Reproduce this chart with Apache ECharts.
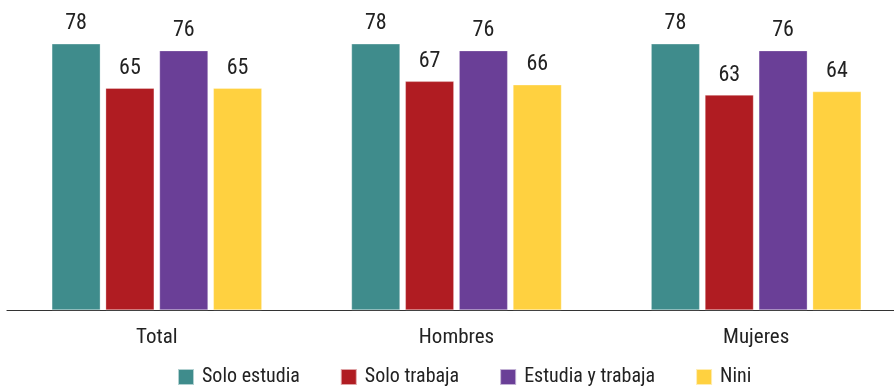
<!DOCTYPE html>
<html><head><meta charset="utf-8">
<script src="https://cdn.jsdelivr.net/npm/echarts@6/dist/echarts.min.js"></script>
<style>html,body{margin:0;padding:0;background:#fff;overflow:hidden}#c{width:906px;height:387px}</style>
</head><body><div id="c"></div>
<script>
const categories = ['Total', 'Hombres', 'Mujeres'];
const seriesNames = ['Solo estudia', 'Solo trabaja', 'Estudia y trabaja', 'Nini'];
const soloEstudia = [78, 78, 78];
const soloTrabaja = [65, 67, 63];
const estudiaYTrabaja = [76, 76, 76];
const nini = [65, 66, 64];
const colors = ['#3F8C8C', '#B01C22', '#6A3F97', '#FFD140'];
const values = [soloEstudia, soloTrabaja, estudiaYTrabaja, nini];
const FONT = '"Liberation Sans Narrow", "Roboto Condensed", "DejaVu Sans Condensed", sans-serif';

const chart = echarts.init(document.getElementById('c'));
chart.setOption({
  animation: false,
  textStyle: { fontFamily: FONT },
  legend: {
    left: 177, top: 367, padding: 0,
    itemWidth: 16, itemHeight: 16, itemGap: 40,
    icon: 'rect',
    textStyle: { fontFamily: FONT, fontSize: 20, color: '#222', padding: [0, 0, 0, 3] },
    data: seriesNames
  },
  grid: { left: 7, right: 0, top: 37, bottom: 77, containLabel: false },
  xAxis: {
    type: 'category', data: categories,
    axisLine: { lineStyle: { color: '#333', width: 1.2 } },
    axisTick: { show: false },
    axisLabel: { fontFamily: FONT, fontSize: 21, color: '#222', margin: 17 }
  },
  yAxis: { type: 'value', min: 0, max: 80, show: false, splitLine: { show: false } },
  series: values.map((v, i) => ({
    name: seriesNames[i], type: 'bar', data: v,
    barWidth: 48.5, barGap: '11%', barCategoryGap: '30%',
    itemStyle: { color: colors[i], borderColor: 'rgba(255,255,255,0.6)', borderWidth: 0.5 },
    label: { show: true, position: 'top', distance: 9, fontFamily: FONT, fontSize: 22, color: '#222' }
  }))
});
</script></body></html>
